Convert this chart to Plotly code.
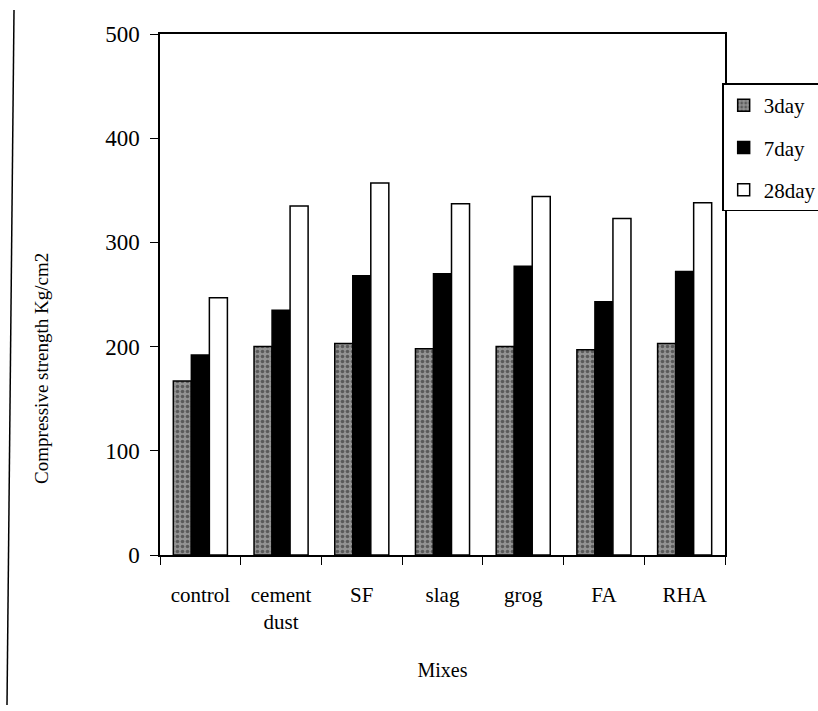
import plotly.graph_objects as go

categories = ["control", "cement<br>dust", "SF", "slag", "grog", "FA", "RHA"]
day3 = [167, 200, 203, 198, 200, 197, 203]
day7 = [192, 235, 268, 270, 277, 243, 272]
day28 = [247, 335, 357, 337, 344, 323, 338]
y_ticks = [0, 100, 200, 300, 400, 500]

FONT = "Liberation Serif"

fig = go.Figure()
fig.add_trace(go.Bar(
    x=categories, y=day3, name="3day", legendgroup="a",
    marker=dict(color="#8c8c8c", line=dict(color="black", width=1.5),
                pattern=dict(shape=".", fgcolor="#222222", bgcolor="#939393", size=5, solidity=0.4)),
))
fig.add_trace(go.Bar(
    x=categories, y=day7, name="7day", legendgroup="b",
    marker=dict(color="black", line=dict(color="black", width=1.5)),
))
fig.add_trace(go.Bar(
    x=categories, y=day28, name="28day", legendgroup="c",
    marker=dict(color="white", line=dict(color="black", width=1.5)),
))

fig.update_layout(
    width=818, height=711,
    margin=dict(l=160, r=93, t=34, b=156, autoexpand=False),
    paper_bgcolor="white", plot_bgcolor="white",
    font=dict(family=FONT, size=20, color="black"),
    barmode="group", bargap=0.33, bargroupgap=0,
    showlegend=True,
    legend=dict(x=0.995, xanchor="left", y=0.905, yanchor="top",
                xref="paper", yref="paper",
                bordercolor="black", borderwidth=1.5,
                font=dict(family=FONT, size=21),
                traceorder="grouped", tracegroupgap=12,
                itemwidth=30, bgcolor="white"),
    xaxis=dict(showline=True, linecolor="black", linewidth=1.5, mirror=True,
               ticks="outside", tickson="boundaries", ticklen=8, tickcolor="black",
               showgrid=False, tickfont=dict(family=FONT, size=21), ticklabelstandoff=20,
               title=dict(text="Mixes", font=dict(family=FONT, size=20), standoff=30)),
    yaxis=dict(range=[0, 500], tickvals=y_ticks, showline=True, linecolor="black",
               linewidth=1.5, mirror=True, ticks="outside", ticklen=8, tickcolor="black",
               showgrid=False, zeroline=False, tickfont=dict(family=FONT, size=23),
               ticklabelstandoff=6),
    annotations=[dict(text="Compressive strength Kg/cm2", textangle=-90,
                      xref="paper", yref="paper", x=-0.209, y=0.359,
                      xanchor="center", yanchor="middle", showarrow=False,
                      font=dict(family=FONT, size=19))],
    shapes=[dict(type="line", xref="paper", yref="paper", x0=-0.2584, x1=-0.2708,
                 y0=1.046, y1=-0.288, line=dict(color="black", width=1.5))],
)

fig.write_html("out.html")
